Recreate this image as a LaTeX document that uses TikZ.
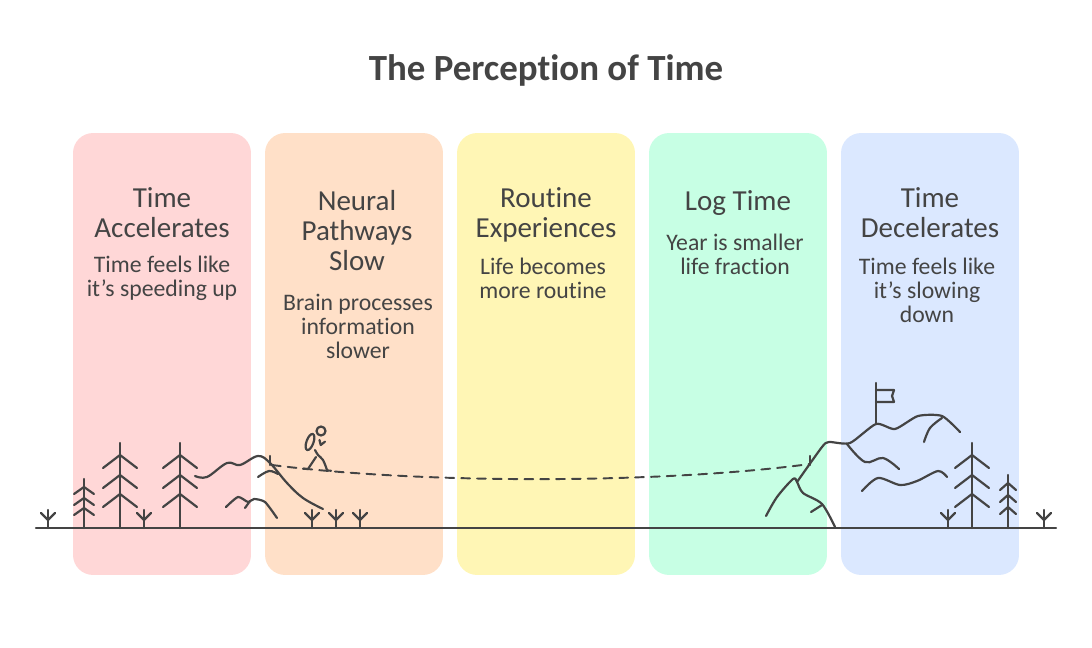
\documentclass[tikz,border=0pt]{standalone}
\usepackage{fontspec}
\setmainfont{Carlito}[Ligatures=NoCommon]
\usepackage{tikz}
\usetikzlibrary{positioning,shapes}
\definecolor{inkgray}{HTML}{444444}
\definecolor{cardred}{HTML}{FFD7D7}
\definecolor{cardorange}{HTML}{FFE0C8}
\definecolor{cardyellow}{HTML}{FFF6B5}
\definecolor{cardgreen}{HTML}{C7FFE4}
\definecolor{cardblue}{HTML}{DBE8FF}
\tikzstyle{card} = [rectangle,rounded corners=0.4cm,minimum width=3.56cm,minimum height=8.84cm,inner sep=0pt]
\tikzstyle{heading} = [align=center,text=inkgray,font=\fontsize{16.5}{17.07}\selectfont]
\tikzstyle{body} = [align=center,text=inkgray,font=\fontsize{13.5}{13.66}\selectfont]
\tikzstyle{sketch} = [draw=inkgray,line width=1.25pt,line cap=round,line join=round]
\tikzstyle{trail} = [sketch,line width=1.1pt,dashed,dash pattern=on 5pt off 4pt]
\begin{document}
\begin{tikzpicture}[x=0.02cm,y=-0.02cm]
\useasboundingbox (0,0) rectangle (1092,648);
\node[card,fill=cardred] (accel) at (162,354) {};
\node[card,fill=cardorange] (neural) at (354,354) {};
\node[card,fill=cardyellow] (routine) at (546,354) {};
\node[card,fill=cardgreen] (logtime) at (738,354) {};
\node[card,fill=cardblue] (decel) at (930,354) {};
\node[text=inkgray,font=\fontsize{21}{24}\selectfont\bfseries] (title) at (546,70) {The Perception of Time};
\node[heading] (accelhead) at (162,213) {Time\\Accelerates};
\node[body] (acceltext) at (162,278) {Time feels like\\it's speeding up};
\node[heading] (neuralhead) at (357,231) {Neural\\Pathways\\Slow};
\node[body] (neuraltext) at (358,326) {Brain processes\\information\\slower};
\node[heading] (routinehead) at (546,215) {Routine\\Experiences};
\node[body] (routinetext) at (543,278) {Life becomes\\more routine};
\node[heading] (loghead) at (738,203) {Log Time};
\node[body] (logtext) at (735,254) {Year is smaller\\life fraction};
\node[heading] (decelhead) at (930,213) {Time\\Decelerates};
\node[body] (deceltext) at (927,290) {Time feels like\\it's slowing\\down};
% ground and trail
\coordinate (groundleft) at (36,528);
\coordinate (groundright) at (1056,528);
\coordinate (trailstart) at (272,465);
\coordinate (trailend) at (810,464);
\draw[sketch] (groundleft)--(groundright);
\draw[trail] (trailstart) .. controls (420,484) and (660,484) .. (trailend);
% trees
\foreach \x in {120,180,972}{
  \draw[sketch] (\x,443)--(\x,528);
  \foreach \y in {455,475,494}
    \draw[sketch] (\x-17,\y+13)--(\x,\y)--(\x+17,\y+13);
}
\draw[sketch] (84,479)--(84,528);
\foreach \y in {487,498,508}
  \draw[sketch] (84-10,\y+7)--(84,\y)--(84+10,\y+7);
\draw[sketch] (1008,475)--(1008,528);
\foreach \y in {483,495,507}
  \draw[sketch] (1008-8,\y+7)--(1008,\y)--(1008+8,\y+7);
% grass
\foreach \x in {48,144,312,336,360,948,1044}{
  \draw[sketch] (\x,510)--(\x,528);
  \draw[sketch] (\x-7,513)--(\x,520)--(\x+7,513);
}
% left hill
\draw[sketch] plot[smooth,tension=0.6] coordinates {(195,476)(207,477)(227,463)(240,465)(258,456)(270,463)(287,483)(303,498)(323,509)};
\draw[sketch] plot[smooth,tension=0.6] coordinates {(258,477)(269,471)(278,474)};
\draw[sketch] plot[smooth,tension=0.4] coordinates {(226,507)(238,497)(248,502)(254,499)(265,502)(277,518)};
\draw[sketch] (245,508)--(250,501);
\draw[sketch] (270,456)--(270,465);
% walker
\draw[sketch] (321,431) circle (0.09cm);
\draw[sketch] (310,442) ellipse [x radius=0.07cm,y radius=0.17cm,rotate=-20];
\draw[sketch] (319.5,440)--(320.7,445)--(325,441.7);
\draw[sketch] plot[smooth,tension=0.6] coordinates {(315,450)(318,455)(323,460)(327,470)};
\draw[sketch] (327,470.5)--(331,470.7);
\draw[sketch] (316,457)--(308,469)--(303,468.7);
% right hill
\draw[sketch] plot[smooth,tension=0.5] coordinates {(766,516)(777,497)(793,479)(797,482)(803,493)(822,504)(835,527)};
\draw[sketch] (811,512)--(822,505);
\draw[sketch] plot[smooth,tension=0.4] coordinates {(797,482)(822,447)(829,442)(850,443)(876,424)(895,429)(918,416)(942,416)(960,432)};
\draw[sketch] plot[smooth,tension=0.6] coordinates {(942,418)(930,428)(924,442)};
\draw[sketch] plot[smooth,tension=0.6] coordinates {(847,444)(865,462)(883,458)(899,469)};
\draw[sketch] plot[smooth,tension=0.5] coordinates {(862,491)(878,478)(900,485)(917,481)(938,471)(947,477)};
\draw[sketch] (810,456)--(810,465);
% flag
\draw[sketch] (876,383)--(876,424);
\draw[sketch] (876,390)--(894,390)--(892,396)--(894,402)--(876,402);
\end{tikzpicture}
\end{document}
